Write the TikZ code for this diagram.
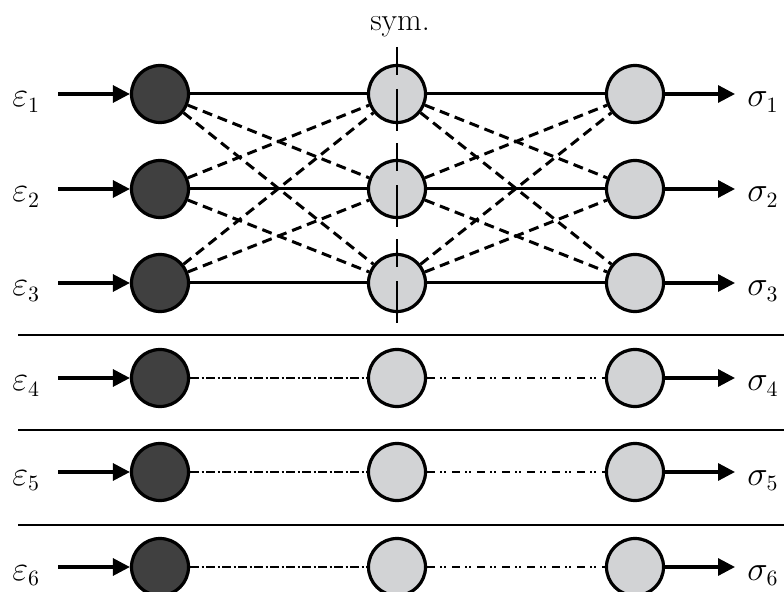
\documentclass[tikz,border=0pt]{standalone}
\usetikzlibrary{arrows.meta}
\definecolor{darkfill}{HTML}{404040}
\definecolor{lightfill}{HTML}{D2D3D5}
\begin{document}
\begin{tikzpicture}[x=0.5bp,y=-0.5bp,
  font=\fontsize{16}{19}\selectfont,
  inneuron/.style={circle,draw=black,line width=1.6bp,fill=darkfill,minimum size=28.5bp,inner sep=0pt},
  neuron/.style={circle,draw=black,line width=1.6bp,fill=lightfill,minimum size=28.5bp,inner sep=0pt},
  feed/.style={line width=1.6bp,-{Triangle[length=8.5bp,width=8.5bp]}},
  link/.style={line width=1.5bp},
  cross/.style={line width=1.5bp,dash pattern=on 5bp off 3bp},
  dashdot/.style={line width=1.4bp,dash pattern=on 4.5bp off 1.25bp on 1bp off 1.25bp},
  dashdotdot/.style={line width=1.4bp,dash pattern=on 4bp off 2.5bp on 1bp off 1bp on 1bp off 3bp},
  separator/.style={line width=1bp},
  symaxis/.style={line width=0.8bp,dash pattern=on 14bp off 7bp on 21bp off 6bp}]
\useasboundingbox (0,0) rectangle (784,592);

% neurons: input column, symmetric hidden column, output column
\foreach \i/\y in {1/94,2/189,3/283,4/378,5/472,6/567}{
  \node[inneuron] (e\i) at (160,\y) {};
  \node[neuron] (h\i) at (397,\y) {};
  \node[neuron] (o\i) at (635,\y) {};
  \coordinate (in\i) at (58,\y);
  \coordinate (out\i) at (735,\y);
  \node[anchor=base west,inner sep=0pt] (eps\i) at (12,\y+13) {$\varepsilon_{\i}$};
  \node[anchor=base west,inner sep=0pt] (sig\i) at (747,\y+13) {$\sigma_{\i}$};
  \draw[feed] (in\i) -- (e\i);
  \draw[feed] (o\i) -- (out\i);
}

% fully coupled block
\foreach \i in {1,2,3}{
  \draw[link] (e\i) -- (h\i);
  \draw[link] (h\i) -- (o\i);
  \foreach \j in {1,2,3}{
    \ifnum\i=\j\else
      \draw[cross] (e\i) -- (h\j);
      \draw[cross] (h\i) -- (o\j);
    \fi
  }
}

% uncoupled rows
\foreach \i in {4,5,6}{
  \draw[dashdot] (e\i) -- (h\i);
  \draw[dashdotdot] (h\i) -- (o\i);
}

% separators between the rows
\foreach \y [count=\k] in {335,430,525}{
  \coordinate (sl\k) at (18,\y);
  \coordinate (sr\k) at (784,\y);
  \draw[separator] (sl\k) -- (sr\k);
}

% symmetry axis
\coordinate (symtop) at (397,47);
\coordinate (symbot) at (397,328);
\draw[symaxis] (symtop) -- (symbot);
\node[anchor=base,inner sep=0pt] (sym) at (400,31) {sym.};
\end{tikzpicture}
\end{document}
